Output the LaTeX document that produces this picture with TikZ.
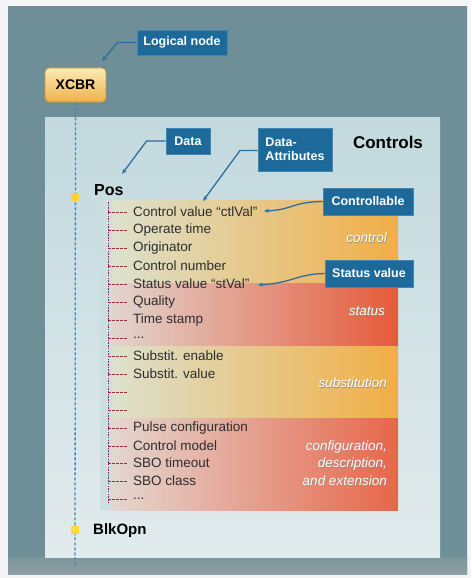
\documentclass[tikz,border=0pt]{standalone}
\usepackage{fontspec}
\setmainfont{Liberation Sans}
\usetikzlibrary{arrows.meta}
\definecolor{frameE}{HTML}{6F8F98}
\definecolor{frameC}{HTML}{93B9C2}
\definecolor{frameB}{HTML}{8E9EA3}
\definecolor{panelT}{HTML}{C2D9DE}
\definecolor{panelB}{HTML}{E2EBED}
\definecolor{lblue}{HTML}{1D6A9A}
\definecolor{lblueD}{HTML}{3F86B4}
\definecolor{arrowc}{HTML}{2C6F9E}
\definecolor{treec}{HTML}{9A2A3C}
\definecolor{ctlL}{HTML}{DCE2CF}
\definecolor{ctlM}{HTML}{F2D68E}
\definecolor{ctlR}{HTML}{F1AE45}
\definecolor{stL}{HTML}{E2D6D0}
\definecolor{stM}{HTML}{EBA28E}
\definecolor{stR}{HTML}{E55A3A}
\definecolor{cfL}{HTML}{E4D8D2}
\definecolor{cfM}{HTML}{ECAC98}
\definecolor{cfR}{HTML}{E7664A}
\definecolor{xcT}{HTML}{FCEBB5}
\definecolor{xcB}{HTML}{EDB24A}
\definecolor{xcD}{HTML}{C8923A}
\begin{document}
\begin{tikzpicture}[x=1pt,y=-1pt,
  lbl/.style={fill=lblue,draw=lblueD,line width=0.8pt,text=white,font=\bfseries\fontsize{12.5}{13}\selectfont,inner sep=1pt},
  callout/.style={draw=arrowc,line width=1.3pt,-{Stealth[length=5pt,width=4pt]}},
  item/.style={anchor=west,font=\fontsize{13.5}{14}\selectfont,text=black!82,inner sep=0pt},
  branch/.style={draw=treec,line width=0.8pt,dash pattern=on 2.5pt off 1.5pt},
  band/.style={white,font=\itshape\fontsize{13.5}{17.5}\selectfont,align=right,anchor=east,inner sep=0pt},
  bandsh/.style={band,text=black!45},
  marker/.style={minimum size=8pt,inner sep=0pt}]
\useasboundingbox (0,0) rectangle (471,578);
\fill[gray!8] (0,0) rectangle (471,578);
% outer frame
\shade[left color=frameE,middle color=frameC,right color=frameE] (8,7) rectangle (467,574);
\shade[top color=frameE!60!frameB,bottom color=frameB] (8,557) rectangle (467,574);
% inner panel
\shade[top color=panelT,bottom color=panelB] (45,117) rectangle (440,557);
% bands
\shade[left color=ctlL,middle color=ctlM,right color=ctlR] (108,200) rectangle (398,283);
\shade[left color=stL,middle color=stM,right color=stR] (108,283) rectangle (398,346);
\shade[left color=ctlL,middle color=ctlM,right color=ctlR] (108,346) rectangle (398,418);
\shade[left color=cfL,middle color=cfM,right color=cfR] (108,418) rectangle (398,510);
\fill[panelT!70!panelB] (100,200) rectangle (112,510);
% band labels
\node[bandsh] at (387.6,238.6) {control};
\node[bandsh] at (385.6,311.6) {status};
\node[bandsh] at (387.6,383.6) {substitution};
\node[bandsh] at (387.6,463.6) {configuration,\\description,\\and extension};
\node[band] (bctl) at (387,238) {control};
\node[band] (bst) at (385,311) {status};
\node[band] (bsub) at (387,383) {substitution};
\node[band] (bcfg) at (387,463) {configuration,\\description,\\and extension};
% logical node trunk
\node[rounded corners=4pt,top color=xcT,bottom color=xcB,draw=xcD,line width=0.8pt,minimum width=61pt,minimum height=34pt,font=\bfseries\fontsize{14}{15}\selectfont,inner sep=0pt] (xcbr) at (75.5,85) {XCBR};
\coordinate (trunkend) at (75,566);
\draw[draw=lblueD,line width=1.3pt,dash pattern=on 3pt off 2pt] (xcbr.south) -- (trunkend);
\node[marker,fill=orange!45!yellow!80!white] (posm) at (75,197) {};
\node[marker,fill=yellow!70!orange!80!white] (blkm) at (75,530) {};
\node[anchor=west,font=\bfseries\fontsize{16}{17}\selectfont,inner sep=0pt] (pos) at (94,190) {Pos};
\node[anchor=west,font=\bfseries\fontsize{15}{16}\selectfont,inner sep=0pt] (blk) at (93,531) {BlkOpn};
\node[font=\bfseries\fontsize{17}{18}\selectfont] (controls) at (388,142) {Controls};
% tree
\coordinate (ttop) at (108,202);
\coordinate (tbot) at (108,502);
\draw[branch,dash pattern=on 1.5pt off 1.2pt] (ttop) -- (tbot);
\foreach \y/\t/\n in {212/{Control value ``ctlVal''}/r1, 230/{Operate time}/r2, 248/{Originator}/r3,
  266/{Control number}/r4, 284/{Status value ``stVal''}/r5, 302/{Quality}/r6, 320/{Time stamp}/r7,
  338/{...}/r8, 356/{Substit. enable}/r9, 374/{Substit. value}/r10, 392/{}/r11, 410/{}/r12,
  428/{Pulse configuration}/r13, 446/{Control model}/r14, 463/{SBO timeout}/r15, 481/{SBO class}/r16, 499/{...}/r17}{
  \node[item] (\n) at (133,\y) {\t};
  \draw[branch] (108,\y) -- (128,\y);
}
% callout labels
\node[lbl,minimum width=90pt,minimum height=25pt] (lnode) at (182,42.5) {Logical node};
\node[lbl,minimum width=44pt,minimum height=26pt] (data) at (188,141) {Data};
\node[lbl,minimum width=74pt,minimum height=43pt,align=left,font=\bfseries\fontsize{12.5}{14}\selectfont] (dattr) at (295,149.5) {Data-\\Attributes};
\node[lbl,minimum width=90pt,minimum height=27pt] (ctrlb) at (368,201.5) {Controllable};
\node[lbl,minimum width=88pt,minimum height=27pt] (statb) at (369,273.5) {Status value};
% callout arrows
\coordinate (lntip) at (102,61);
\coordinate (datatip) at (122,174);
\coordinate (datip) at (203,201);
\coordinate (ctltip) at (264,211);
\coordinate (sttip) at (258,285);
\draw[callout] (lnode.west) -- ++(-19,0) -- (lntip);
\draw[callout] (data.west) -- ++(-19,0) -- (datatip);
\draw[callout] (dattr.west |- 0,150.5) -- (240,150.5) -- (datip);
\draw[callout] (ctrlb.west) .. controls (292,202) and (292,210) .. (ctltip);
\draw[callout] (statb.west) .. controls (297,274) and (292,283) .. (sttip);
\end{tikzpicture}
\end{document}
